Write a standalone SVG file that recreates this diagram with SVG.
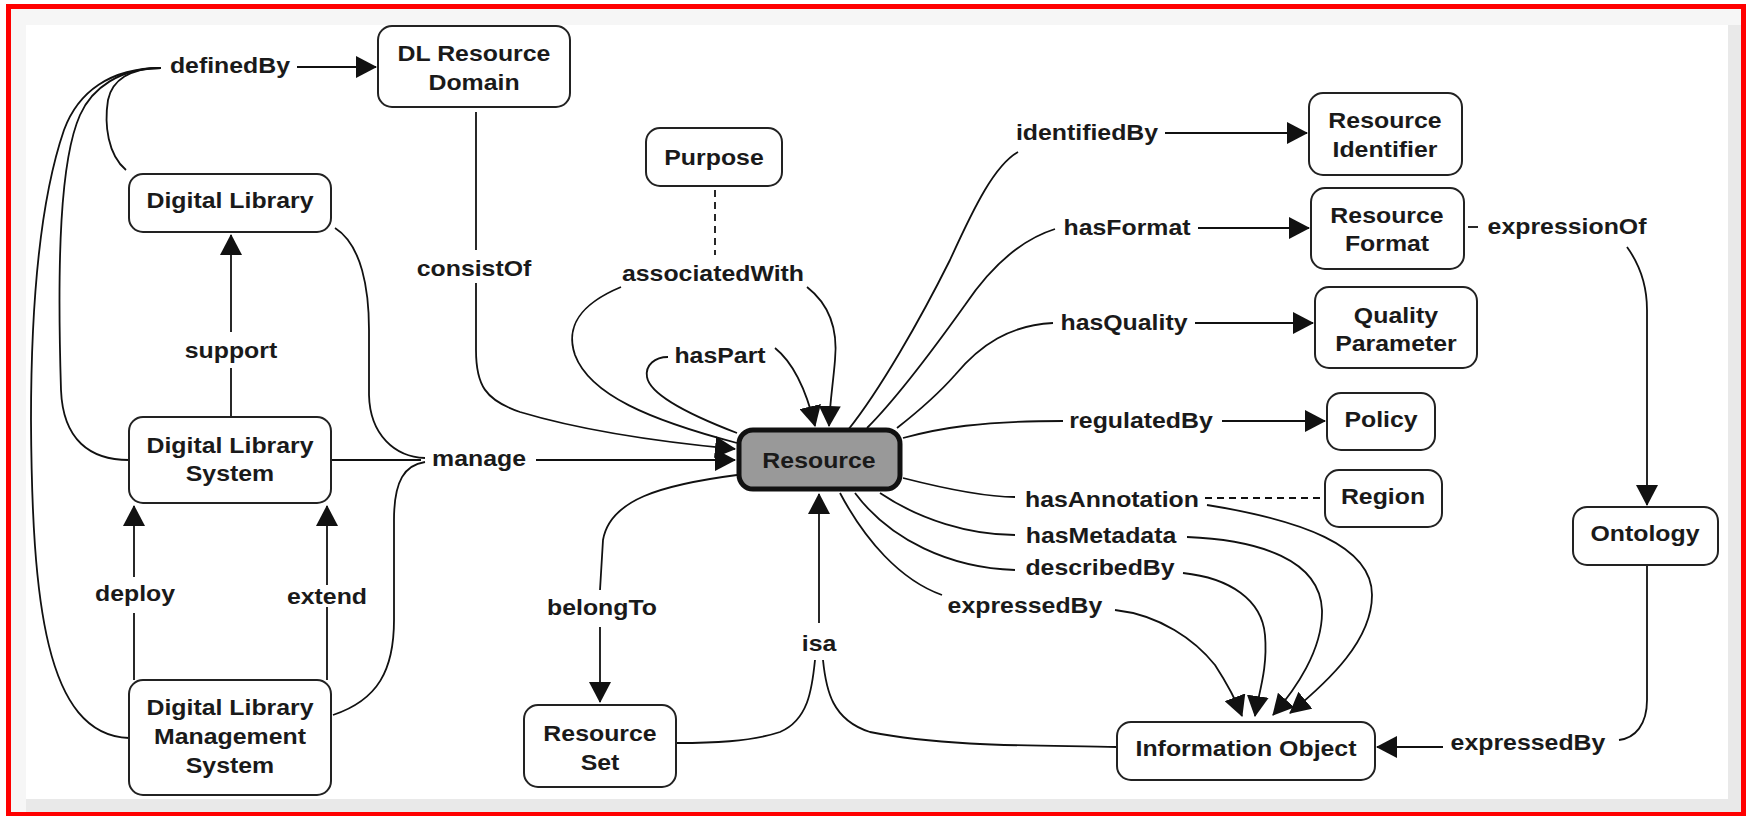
<svg xmlns="http://www.w3.org/2000/svg" width="1748" height="816" viewBox="0 0 1748 816">
  <defs>
    <marker id="arrow" markerUnits="userSpaceOnUse" markerWidth="21" markerHeight="22" refX="20" refY="11" orient="auto">
      <path d="M0,0 L21,11 L0,22 Z" fill="#111"/>
    </marker>
    <style>
      .box { fill: #ffffff; stroke: #222; stroke-width: 2; }
      .core { fill: #999999; stroke: #111; stroke-width: 5; }
      .t { font-family: "Liberation Sans", Arial, sans-serif; font-weight: bold; font-size: 22px; fill: #1a1a1a; text-anchor: middle; }
      .ln { fill: none; stroke: #111; stroke-width: 1.8; }
      .ar { fill: none; stroke: #111; stroke-width: 1.8; marker-end: url(#arrow); }
      .dash { fill: none; stroke: #111; stroke-width: 1.8; stroke-dasharray: 7 5; }
    </style>
  </defs>

  <!-- frame -->
  <rect x="0" y="0" width="1748" height="816" fill="#ffffff"/>
  <rect x="11" y="9" width="1730" height="803" fill="#e9e9e9"/>
  <path d="M11,9 H1741 V25 H26 V812 H11 Z" fill="#f6f6f6"/>
  <rect x="26" y="25" width="1702" height="774" fill="#ffffff"/>
  <rect x="8.5" y="6.5" width="1735" height="808" fill="none" stroke="#ff0000" stroke-width="5"/>

  <!-- connectors -->
  <g id="connectors">
    <!-- definedBy -->
    <path class="ar" d="M297,67 L376,67"/>
    <path class="ln" d="M161,68 C130,68 112,80 108,100 C104,125 108,155 126,170"/>
    <path class="ln" d="M161,68 C120,68 92,88 80,115 C60,160 57,260 61,390 C63,440 90,460 129,460"/>
    <path class="ln" d="M161,68 C110,68 78,92 64,130 C40,200 31,300 31,420 C32,600 45,735 129,738"/>
    <!-- consistOf -->
    <path class="ln" d="M476,112 L476,250"/>
    <path class="ar" d="M476,283 L476,350 C476,385 485,400 520,412 C580,430 660,442 735,449"/>
    <!-- manage -->
    <path class="ln" d="M331,460 L421,460"/>
    <path class="ln" d="M335,228 C362,245 369,290 369,330 L369,395 C370,435 395,457 425,458"/>
    <path class="ln" d="M333,715 C378,700 394,670 394,620 L394,520 C394,480 405,465 425,462"/>
    <path class="ar" d="M536,460 L735,460"/>
    <!-- support / deploy / extend -->
    <path class="ln" d="M231,417 L231,368"/>
    <path class="ar" d="M231,332 L231,235"/>
    <path class="ln" d="M134,680 L134,613"/>
    <path class="ar" d="M134,577 L134,506"/>
    <path class="ln" d="M327,680 L327,607"/>
    <path class="ar" d="M327,585 L327,506"/>
    <!-- associatedWith / hasPart -->
    <path class="dash" d="M715,190 L715,255"/>
    <path class="ln" d="M737,443 C650,420 590,395 575,355 C563,320 590,300 621,287"/>
    <path class="ar" d="M807,287 C830,305 838,330 835,360 C833,385 830,400 829,426"/>
    <path class="ln" d="M737,433 C690,415 650,395 647,377 C645,365 655,357 668,357"/>
    <path class="ar" d="M775,348 C790,360 805,385 815,426"/>
    <!-- belongTo -->
    <path class="ln" d="M737,475 C660,485 610,500 603,540 L600,590"/>
    <path class="ar" d="M600,627 L600,702"/>
    <!-- isa -->
    <path class="ar" d="M819,623 L819,494"/>
    <path class="ln" d="M815,660 C812,690 808,720 780,732 C750,742 710,743 677,743"/>
    <path class="ln" d="M823,660 C826,690 832,720 870,732 C950,748 1050,745 1117,747"/>
    <!-- right side -->
    <path class="ln" d="M848,430 C880,390 920,320 950,260 C975,205 995,165 1018,152"/>
    <path class="ar" d="M1165,133 L1307,133"/>
    <path class="ln" d="M867,428 C900,395 940,340 965,305 C990,268 1020,240 1055,229"/>
    <path class="ar" d="M1198,228 L1309,228"/>
    <path class="ln" d="M897,428 C920,410 940,392 955,375 C980,345 1010,325 1053,323"/>
    <path class="ar" d="M1195,323 L1313,323"/>
    <path class="ln" d="M903,438 C940,428 980,421 1063,421"/>
    <path class="ar" d="M1222,421 L1325,421"/>
    <path class="ln" d="M903,478 C950,490 990,497 1015,497"/>
    <path class="dash" d="M1205,498 L1323,498"/>
    <path class="ar" d="M1207,505 C1300,520 1372,545 1372,595 C1372,640 1330,680 1290,713"/>
    <path class="ln" d="M880,493 C920,520 970,535 1015,535"/>
    <path class="ar" d="M1187,537 C1260,540 1320,560 1322,610 C1323,650 1295,690 1273,715"/>
    <path class="ln" d="M855,493 C890,540 950,568 1015,570"/>
    <path class="ar" d="M1183,573 C1230,578 1262,600 1265,635 C1268,670 1258,695 1255,716"/>
    <path class="ln" d="M840,493 C865,540 900,580 942,595"/>
    <path class="ar" d="M1115,610 C1160,615 1195,640 1215,665 C1228,685 1236,700 1242,716"/>
    <!-- expressionOf / expressedBy -->
    <path class="ln" d="M1468,227 L1478,227"/>
    <path class="ar" d="M1627,247 C1640,265 1647,285 1647,310 L1647,505"/>
    <path class="ln" d="M1647,566 L1647,700 C1647,725 1635,738 1619,740"/>
    <path class="ar" d="M1443,747 L1377,747"/>
  </g>

  <!-- linking phrases -->
  <g id="labels">
    <text class="t" transform="translate(230,73) scale(1.13 1)">definedBy</text>
    <text class="t" transform="translate(474,276) scale(1.13 1)">consistOf</text>
    <text class="t" transform="translate(231,358) scale(1.13 1)">support</text>
    <text class="t" transform="translate(479,466) scale(1.13 1)">manage</text>
    <text class="t" transform="translate(135,601) scale(1.13 1)">deploy</text>
    <text class="t" transform="translate(327,604) scale(1.13 1)">extend</text>
    <text class="t" transform="translate(713,281) scale(1.13 1)">associatedWith</text>
    <text class="t" transform="translate(720,363) scale(1.13 1)">hasPart</text>
    <text class="t" transform="translate(1087,140) scale(1.13 1)">identifiedBy</text>
    <text class="t" transform="translate(1127,235) scale(1.13 1)">hasFormat</text>
    <text class="t" transform="translate(1124,330) scale(1.13 1)">hasQuality</text>
    <text class="t" transform="translate(1141,428) scale(1.13 1)">regulatedBy</text>
    <text class="t" transform="translate(1112,507) scale(1.13 1)">hasAnnotation</text>
    <text class="t" transform="translate(1101,543) scale(1.13 1)">hasMetadata</text>
    <text class="t" transform="translate(1100,575) scale(1.13 1)">describedBy</text>
    <text class="t" transform="translate(1025,613) scale(1.13 1)">expressedBy</text>
    <text class="t" transform="translate(602,615) scale(1.13 1)">belongTo</text>
    <text class="t" transform="translate(819,651) scale(1.13 1)">isa</text>
    <text class="t" transform="translate(1567,234) scale(1.13 1)">expressionOf</text>
    <text class="t" transform="translate(1528,750) scale(1.13 1)">expressedBy</text>
  </g>

  <!-- concepts -->
  <g id="dl-resource-domain">
    <rect class="box" x="378" y="26" width="192" height="81" rx="14"/>
    <text class="t" transform="translate(474,0) scale(1.13 1)"><tspan x="0" y="61">DL Resource</tspan><tspan x="0" y="90">Domain</tspan></text>
  </g>
  <g id="digital-library">
    <rect class="box" x="129" y="174" width="202" height="58" rx="14"/>
    <text class="t" transform="translate(230,208) scale(1.13 1)">Digital Library</text>
  </g>
  <g id="digital-library-system">
    <rect class="box" x="129" y="417" width="202" height="86" rx="14"/>
    <text class="t" transform="translate(230,0) scale(1.13 1)"><tspan x="0" y="453">Digital Library</tspan><tspan x="0" y="481">System</tspan></text>
  </g>
  <g id="dlms">
    <rect class="box" x="129" y="680" width="202" height="115" rx="14"/>
    <text class="t" transform="translate(230,0) scale(1.13 1)"><tspan x="0" y="715">Digital Library</tspan><tspan x="0" y="744">Management</tspan><tspan x="0" y="773">System</tspan></text>
  </g>
  <g id="purpose">
    <rect class="box" x="646" y="128" width="136" height="58" rx="14"/>
    <text class="t" transform="translate(714,165) scale(1.13 1)">Purpose</text>
  </g>
  <g id="resource">
    <rect class="core" x="739" y="430" width="161" height="59" rx="14"/>
    <text class="t" transform="translate(819,468) scale(1.13 1)">Resource</text>
  </g>
  <g id="resource-identifier">
    <rect class="box" x="1309" y="93" width="153" height="82" rx="14"/>
    <text class="t" transform="translate(1385,0) scale(1.13 1)"><tspan x="0" y="128">Resource</tspan><tspan x="0" y="157">Identifier</tspan></text>
  </g>
  <g id="resource-format">
    <rect class="box" x="1311" y="188" width="153" height="81" rx="14"/>
    <text class="t" transform="translate(1387,0) scale(1.13 1)"><tspan x="0" y="223">Resource</tspan><tspan x="0" y="251">Format</tspan></text>
  </g>
  <g id="quality-parameter">
    <rect class="box" x="1315" y="287" width="162" height="81" rx="14"/>
    <text class="t" transform="translate(1396,0) scale(1.13 1)"><tspan x="0" y="323">Quality</tspan><tspan x="0" y="351">Parameter</tspan></text>
  </g>
  <g id="policy">
    <rect class="box" x="1327" y="393" width="108" height="57" rx="14"/>
    <text class="t" transform="translate(1381,427) scale(1.13 1)">Policy</text>
  </g>
  <g id="region">
    <rect class="box" x="1325" y="470" width="117" height="57" rx="14"/>
    <text class="t" transform="translate(1383,504) scale(1.13 1)">Region</text>
  </g>
  <g id="ontology">
    <rect class="box" x="1573" y="507" width="145" height="58" rx="14"/>
    <text class="t" transform="translate(1645,541) scale(1.13 1)">Ontology</text>
  </g>
  <g id="information-object">
    <rect class="box" x="1117" y="722" width="258" height="58" rx="14"/>
    <text class="t" transform="translate(1246,756) scale(1.13 1)">Information Object</text>
  </g>
  <g id="resource-set">
    <rect class="box" x="524" y="705" width="152" height="82" rx="14"/>
    <text class="t" transform="translate(600,0) scale(1.13 1)"><tspan x="0" y="741">Resource</tspan><tspan x="0" y="770">Set</tspan></text>
  </g>
</svg>
